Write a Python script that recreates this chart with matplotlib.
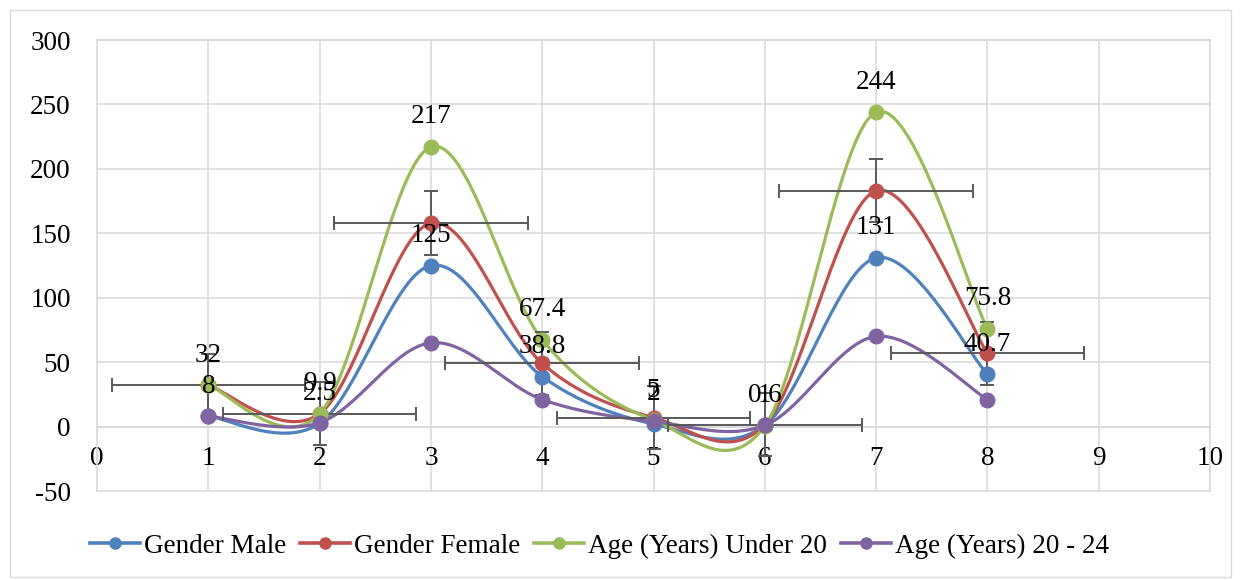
import numpy as np
import matplotlib
import matplotlib.pyplot as plt
from matplotlib.patches import Rectangle
matplotlib.use('Agg')

plt.rcParams['font.family'] = ['Liberation Serif', 'DejaVu Serif']
plt.rcParams['axes.unicode_minus'] = False

# data
x = [1, 2, 3, 4, 5, 6, 7, 8]
gender_male = [8, 2.5, 125, 38.8, 2, 1, 131, 40.7]
gender_female = [32, 10, 158, 49, 7, 1.5, 183, 57]
age_under_20 = [32, 9.9, 217, 67.4, 5, 0.6, 244, 75.8]
age_20_24 = [8, 3, 65, 21, 4, 1, 70, 21]
female_xerr = 0.87
female_yerr = 24.5

names = ['Gender Male', 'Gender Female', 'Age (Years) Under 20', 'Age (Years) 20 - 24']
colors = ['#4F81BD', '#C0504D', '#9BBB59', '#8064A2']


def smooth(xs, ys, n=40):
    # Excel style smoothed line: bezier through points (catmull-rom control points)
    P = np.column_stack([xs, ys]).astype(float)
    P = np.vstack([P[0], P, P[-1]])
    out = []
    t = np.linspace(0, 1, n)[:, None]
    for i in range(1, len(P) - 2):
        p0, p1, p2, p3 = P[i - 1], P[i], P[i + 1], P[i + 2]
        c1 = p1 + (p2 - p0) / 6
        c2 = p2 - (p3 - p1) / 6
        seg = (1 - t) ** 3 * p1 + 3 * (1 - t) ** 2 * t * c1 + 3 * (1 - t) * t ** 2 * c2 + t ** 3 * p2
        out.append(seg)
    out = np.vstack(out)
    return out[:, 0], out[:, 1]


fig = plt.figure(figsize=(12.41, 5.8), dpi=100)
ax = fig.add_axes([0.0782, 0.1534, 0.8968, 0.7776])

fig.patches.append(Rectangle((0.008, 0.005), 0.984, 0.978, transform=fig.transFigure,
                             fill=False, edgecolor='#D9D9D9', lw=1.0))

series = [gender_male, gender_female, age_under_20, age_20_24]
for ys, name, c in zip(series, names, colors):
    sx, sy = smooth(x, ys)
    ax.plot(sx, sy, color=c, lw=2.3, zorder=3)
    ax.plot(x, ys, 'o', color=c, ms=10.5, zorder=5)
    ax.plot([], [], '-o', color=c, lw=2.6, ms=8, label=name)

ax.errorbar(x, gender_female, xerr=female_xerr, yerr=female_yerr, fmt='none',
            ecolor='#595959', elinewidth=1.4, capsize=5, capthick=1.4, zorder=4)

for ys in [gender_male, age_under_20]:
    for xi, yi in zip(x, ys):
        ax.annotate(f'{yi:g}', (xi, yi), xytext=(0, 17), textcoords='offset points',
                    ha='center', va='baseline', fontsize=19.5, zorder=6)

ax.set_xlim(0, 10)
ax.set_ylim(-50, 300)
ax.set_xticks(range(0, 11))
ax.set_yticks(range(-50, 301, 50))
ax.grid(True, color='#D9D9D9', lw=1.1, zorder=0)
for gl in ax.get_xgridlines() + ax.get_ygridlines():
    gl.set_clip_on(False)
ax.set_axisbelow(True)

for s in ['top', 'right', 'left']:
    ax.spines[s].set_color('#D9D9D9')
    ax.spines[s].set_linewidth(1.1)
ax.spines['bottom'].set_position(('data', 0))
ax.spines['bottom'].set_color('#D9D9D9')
ax.spines['bottom'].set_linewidth(1.1)

ax.tick_params(axis='x', length=0, pad=14, labelsize=19.5)
ax.tick_params(axis='y', length=0, pad=19, labelsize=19.5)

leg = ax.legend(loc='center', ncol=4, frameon=False, fontsize=19.5, handlelength=1.85,
                handletextpad=0.15, columnspacing=0.5)
leg.set_bbox_to_anchor((0.483, 0.058), transform=fig.transFigure)

fig.savefig('out.png', dpi=100)
